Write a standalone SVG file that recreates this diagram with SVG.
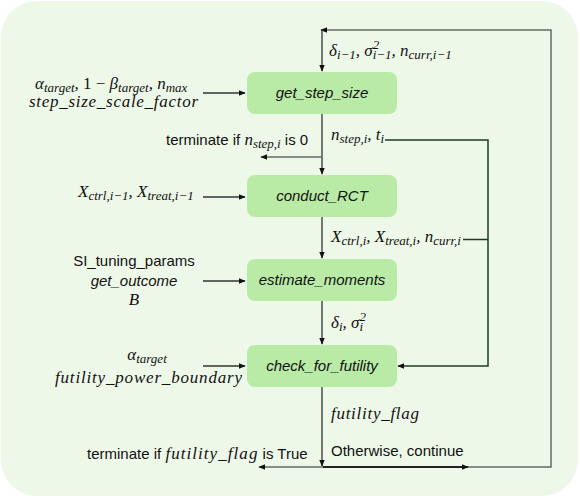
<svg xmlns="http://www.w3.org/2000/svg" width="580" height="498" viewBox="0 0 580 498">
<defs>
<marker id="ah" viewBox="0 0 10 10" refX="9" refY="5" markerWidth="7" markerHeight="7" markerUnits="userSpaceOnUse" orient="auto">
<path d="M0,1 L10,5 L0,9 Z" fill="#111"/>
</marker>
<style>
.bg{fill:#eef8e9}
.box{fill:#b9eba6}
.lbl{font-family:"Liberation Sans",Arial,sans-serif;font-style:italic;font-size:15px;text-anchor:middle;fill:#111}
.s{font-family:"Liberation Sans",Arial,sans-serif;font-size:15px;fill:#111}
.m{font-family:"Liberation Serif","Times New Roman",serif;font-style:italic;font-size:17px;fill:#111}
.sub{font-size:13px}
.up{font-style:normal}
.c{fill:none;stroke:#333;stroke-width:1.3}
.g{fill:none;stroke:#666a66;stroke-width:1.5}
.dg{fill:none;stroke:#1f3b1f;stroke-width:1.5}
.k{fill:none;stroke:#222;stroke-width:1.8}
</style>
</defs>
<rect class="bg" x="1" y="1" width="577" height="495" rx="36"/>

<g id="connectors">
<path class="c" d="M203,93 H245" marker-end="url(#ah)"/>
<path class="c" d="M203,197 H245" marker-end="url(#ah)"/>
<path class="c" d="M203,281 H245" marker-end="url(#ah)"/>
<path class="c" d="M203,366 H245" marker-end="url(#ah)"/>
<path class="c" d="M322,114 V174" marker-end="url(#ah)"/>
<path class="c" d="M322,217 V258" marker-end="url(#ah)"/>
<path class="c" d="M322,301 V344" marker-end="url(#ah)"/>
<path class="c" d="M322,387 V466" marker-end="url(#ah)"/>
<path class="g" d="M322,157 H261" marker-end="url(#ah)"/>
<path class="g" d="M322,467 H551 V30 H321" marker-end="url(#ah)"/>
<path class="c" d="M322,30 V71" marker-end="url(#ah)"/>
<path class="g" d="M322,467 H259" marker-end="url(#ah)"/>
<path class="k" d="M323,467 H468" marker-end="url(#ah)"/>
<path class="dg" d="M385,140 H488 V366 H398" marker-end="url(#ah)"/>
<path class="dg" d="M463,239.5 H488"/>
</g>

<g id="get_step_size">
<rect class="box" x="247" y="72" width="150" height="42" rx="8"/>
<text class="lbl" x="322" y="98">get_step_size</text>
</g>
<g id="conduct_RCT">
<rect class="box" x="247" y="175" width="150" height="42" rx="8"/>
<text class="lbl" x="322" y="201">conduct_RCT</text>
</g>
<g id="estimate_moments">
<rect class="box" x="247" y="259" width="150" height="42" rx="8"/>
<text class="lbl" x="322" y="285">estimate_moments</text>
</g>
<g id="check_for_futility">
<rect class="box" x="247" y="345" width="150" height="42" rx="8"/>
<text class="lbl" x="322" y="371">check_for_futility</text>
</g>

<g id="labels">
<text class="m" x="35" y="89">α<tspan class="sub" dy="3">target</tspan><tspan dy="-3">, </tspan><tspan class="up">1 − </tspan>β<tspan class="sub" dy="3">target</tspan><tspan dy="-3">, n</tspan><tspan class="sub" dy="3">max</tspan></text>
<text class="m" x="29" y="107" textLength="169" lengthAdjust="spacing">step_size_scale_factor</text>

<text class="m" x="329" y="56">δ<tspan class="sub" dy="3">i−1</tspan><tspan dy="-3">, σ</tspan><tspan class="sub" dy="-7">2</tspan><tspan class="sub" dx="-6.5" dy="10">i−1</tspan><tspan dy="-3">, n</tspan><tspan class="sub" dy="3">curr,i−1</tspan></text>

<text class="s" x="166" y="145">terminate if <tspan class="m">n</tspan><tspan class="m sub" dy="3">step,i</tspan><tspan dy="-3"> is 0</tspan></text>
<text class="m" x="331" y="140">n<tspan class="sub" dy="3">step,i</tspan><tspan dy="-3">, t</tspan><tspan class="sub" dy="3">i</tspan></text>

<text class="m" x="78" y="197">X<tspan class="sub" dy="3">ctrl,i−1</tspan><tspan dy="-3">, X</tspan><tspan class="sub" dy="3">treat,i−1</tspan></text>
<text class="m" x="331" y="242">X<tspan class="sub" dy="3">ctrl,i</tspan><tspan dy="-3">, X</tspan><tspan class="sub" dy="3">treat,i</tspan><tspan dy="-3">, n</tspan><tspan class="sub" dy="3">curr,i</tspan></text>

<text class="s" x="134" y="266" text-anchor="middle">SI_tuning_params</text>
<text class="lbl" x="134" y="286">get_outcome</text>
<text class="m" x="134" y="305" text-anchor="middle">B</text>

<text class="m" x="331" y="328">δ<tspan class="sub" dy="3">i</tspan><tspan dy="-3">, σ</tspan><tspan class="sub" dy="-7">2</tspan><tspan class="sub" dx="-6.5" dy="10">i</tspan></text>

<text class="m" x="147" y="360" text-anchor="middle">α<tspan class="sub" dy="3">target</tspan></text>
<text class="m" x="55" y="383" textLength="187" lengthAdjust="spacing">futility_power_boundary</text>

<text class="m" x="331" y="419" textLength="88" lengthAdjust="spacing">futility_flag</text>
<text class="s" x="331" y="456">Otherwise, continue</text>
<text class="s" x="87" y="459">terminate if <tspan class="m" textLength="92" lengthAdjust="spacing">futility_flag</tspan> is True</text>
</g>
</svg>
